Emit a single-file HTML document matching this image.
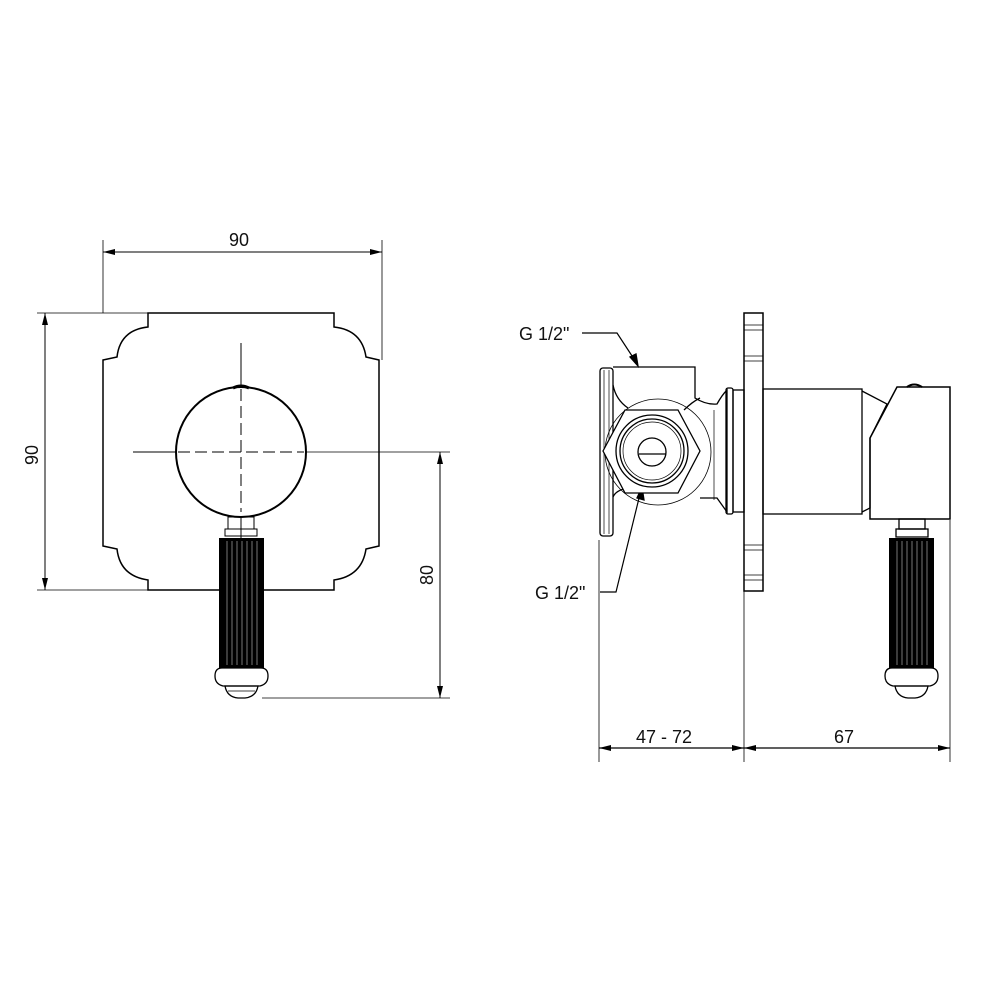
<!DOCTYPE html>
<html><head><meta charset="utf-8"><style>
html,body{margin:0;padding:0;background:#fff;}
svg{display:block;}
text{font-family:"Liberation Sans",sans-serif;font-size:18px;fill:#111;}
</style></head><body>
<svg width="1000" height="1000" viewBox="0 0 1000 1000" xmlns="http://www.w3.org/2000/svg">
<defs>
<marker id="a" viewBox="0 0 12 6" refX="12" refY="3" markerWidth="12" markerHeight="6" orient="auto-start-reverse" markerUnits="userSpaceOnUse"><path d="M0,0 L12,3 L0,6z" fill="#000"/></marker>
<g id="grip">
<rect x="0" y="0" width="45" height="130" fill="#000"/>
<g stroke="#aaa" stroke-width="0.7">
<line x1="8" y1="3" x2="8" y2="127"/><line x1="13" y1="3" x2="13" y2="127"/><line x1="18" y1="3" x2="18" y2="127"/><line x1="23" y1="3" x2="23" y2="127"/><line x1="28" y1="3" x2="28" y2="127"/><line x1="33" y1="3" x2="33" y2="127"/><line x1="38" y1="3" x2="38" y2="127"/>
</g>
</g>
</defs>
<g fill="none" stroke="#000" stroke-width="1">
<line x1="103" y1="240" x2="103" y2="313" stroke-width="0.8"/>
<line x1="382" y1="240" x2="382" y2="360" stroke-width="0.8"/>
<line x1="103" y1="252" x2="382" y2="252" marker-start="url(#a)" marker-end="url(#a)"/>
<line x1="37" y1="313" x2="148" y2="313" stroke-width="0.8"/>
<line x1="37" y1="590" x2="148" y2="590" stroke-width="0.8"/>
<line x1="45" y1="313" x2="45" y2="590" marker-start="url(#a)" marker-end="url(#a)"/>
<line x1="306" y1="452" x2="450" y2="452" stroke-width="0.8"/>
<line x1="262" y1="698" x2="450" y2="698" stroke-width="0.8"/>
<line x1="440" y1="452" x2="440" y2="698" marker-start="url(#a)" marker-end="url(#a)"/>
<path stroke-width="1.5" d="M148,313 L334,313 L334,327 Q362,330 366,357 L379,360 L379,546 L366,549 Q362,576 334,580 L334,590 L148,590 L148,580 Q120,576 117,549 L103,546 L103,360 L117,357 Q120,330 148,327 Z"/>
<circle cx="241" cy="452" r="65" stroke-width="2"/>
<path d="M233,388 Q241,384 249,388" stroke-width="3"/>
<line x1="133" y1="452" x2="176" y2="452"/>
<line x1="241" y1="343" x2="241" y2="387"/>
<line x1="178" y1="452" x2="304" y2="452" stroke-dasharray="12,5"/>
<line x1="241" y1="389" x2="241" y2="512" stroke-dasharray="12,5"/>
<rect x="228" y="517" width="26" height="12"/>
<rect x="225" y="529" width="32" height="7"/>
<line x1="241" y1="517" x2="241" y2="560"/>
</g>
<use href="#grip" x="219" y="538"/>
<g fill="none" stroke="#000" stroke-width="1.3">
<path d="M222,668 L261,668 Q268,668 268,676 Q268,684 260,686 L223,686 Q215,684 215,676 Q215,668 222,668Z"/>
<path d="M225,686 L258,686 Q256,697 245,698 L238,698 Q227,697 225,686Z"/>
<line x1="228" y1="691" x2="255" y2="691" stroke-width="0.7"/>

<polyline points="582,333 617,333 636,362" stroke-width="1.2"/>
<path d="M638,366 L630,357 L636,354Z" fill="#000"/>
<polyline points="600,592 616,592 641,490" stroke-width="1.2"/>
<path d="M642,487 L644,500 L637,498Z" fill="#000"/>
<line x1="599" y1="540" x2="599" y2="762" stroke-width="0.8"/>
<line x1="744" y1="590" x2="744" y2="762" stroke-width="0.8"/>
<line x1="950" y1="520" x2="950" y2="762" stroke-width="0.8"/>
<line x1="599" y1="748" x2="744" y2="748" marker-start="url(#a)" marker-end="url(#a)"/>
<line x1="744" y1="748" x2="950" y2="748" marker-start="url(#a)" marker-end="url(#a)"/>
<rect x="600" y="368" width="13" height="168" rx="3"/>
<line x1="604" y1="370" x2="604" y2="534" stroke-width="0.7"/><line x1="609" y1="370" x2="609" y2="534" stroke-width="0.7"/>
<path d="M613,367 L695,367 L695,398 Q706,405 717,404 Q722,395 727,390 L727,512 Q722,505 717,498 L700,498" stroke-width="1.3"/>
<path d="M613,385 Q616,400 628,408 M613,497 Q616,490 628,488" />
<path d="M684,410 Q692,402 700,398" />
<circle cx="658" cy="452" r="53" stroke-width="0.8"/>
<polygon points="603,451 625,410 678,410 700,451 678,493 625,493" stroke-width="1.3" fill="#fff"/>
<circle cx="652" cy="451" r="36" stroke-width="1.3"/>
<circle cx="652" cy="451" r="32"/>
<circle cx="652" cy="451" r="29" stroke-width="0.7"/>
<circle cx="652" cy="452" r="14" stroke-width="1.3"/>
<line x1="639" y1="454" x2="666" y2="454"/>
<line x1="714" y1="410" x2="714" y2="500" stroke-width="0.7"/>
<rect x="726" y="388" width="7" height="126" rx="2" stroke-width="1.3"/>
<rect x="733" y="390" width="11" height="122"/>
<rect x="744" y="313" width="19" height="278" stroke-width="1.5"/>
<line x1="744" y1="325" x2="763" y2="325" stroke-width="0.7"/><line x1="744" y1="330" x2="763" y2="330" stroke-width="0.7"/>
<line x1="744" y1="356" x2="763" y2="356" stroke-width="0.7"/><line x1="744" y1="361" x2="763" y2="361" stroke-width="0.7"/>
<line x1="744" y1="545" x2="763" y2="545" stroke-width="0.7"/><line x1="744" y1="550" x2="763" y2="550" stroke-width="0.7"/>
<line x1="744" y1="575" x2="763" y2="575" stroke-width="0.7"/><line x1="744" y1="580" x2="763" y2="580" stroke-width="0.7"/>
<rect x="763" y="389" width="99" height="125" stroke-width="1.3"/>
<path d="M862,391 L887,404 L870,438 L870,508 L862,512" stroke-width="1.3"/>
<path d="M870,519 L870,438 L897,387 L950,387 L950,519 Z" stroke-width="1.5"/>
<path d="M907,387 Q914,382 922,387" stroke-width="2"/>
<rect x="899" y="519" width="26" height="10"/>
<rect x="896" y="529" width="32" height="8"/>
</g>
<use href="#grip" x="889" y="538"/>
<g fill="none" stroke="#000" stroke-width="1.3">
<path d="M892,668 L931,668 Q938,668 938,676 Q938,684 930,686 L893,686 Q885,684 885,676 Q885,668 892,668Z"/>
<path d="M895,686 L928,686 Q926,697 915,698 L908,698 Q897,697 895,686Z"/>
</g>
<text x="229" y="246">90</text>
<text x="0" y="0" transform="translate(38,465) rotate(-90)">90</text>
<text x="0" y="0" transform="translate(433,585) rotate(-90)">80</text>
<text x="519" y="340">G 1/2"</text>
<text x="535" y="599">G 1/2"</text>
<text x="636" y="743">47 - 72</text>
<text x="834" y="743">67</text>
</svg>
</body></html>
